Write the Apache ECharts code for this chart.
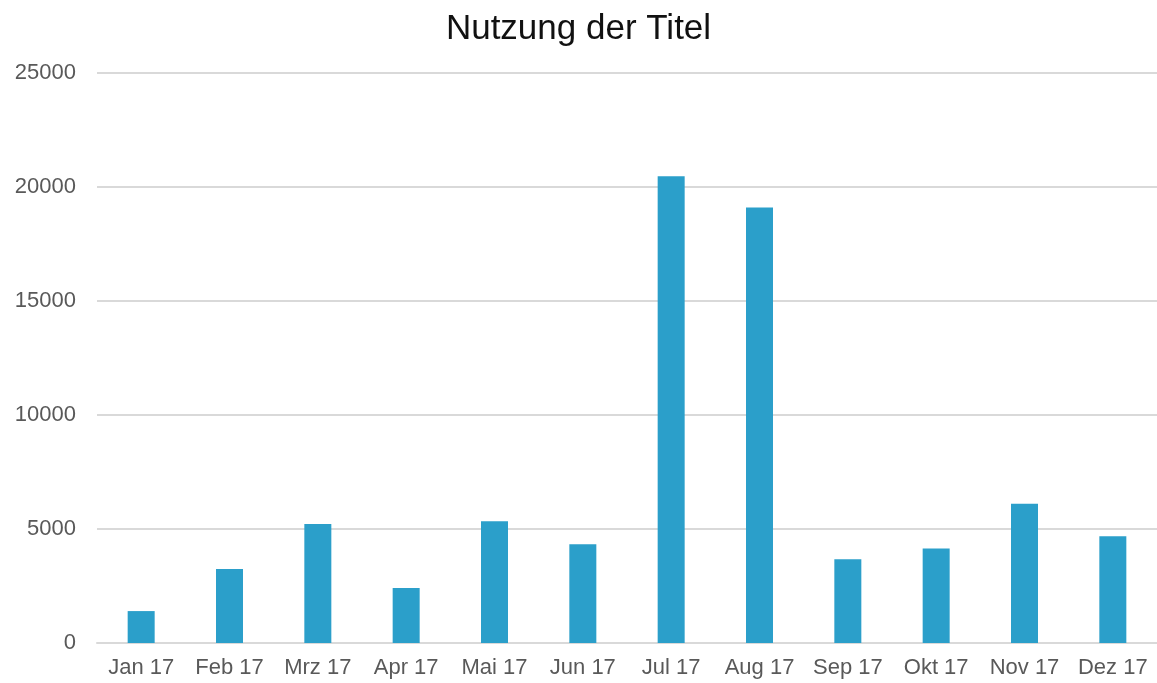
<!DOCTYPE html>
<html>
<head>
<meta charset="utf-8">
<script src="https://cdn.jsdelivr.net/npm/echarts@6/dist/echarts.min.js"></script>
<style>
  html, body { margin: 0; padding: 0; background: #fff; }
  #chart { width: 1157px; height: 683px; }
</style>
</head>
<body>
<div id="chart"></div>
<script>
const months = ['Jan 17', 'Feb 17', 'Mrz 17', 'Apr 17', 'Mai 17', 'Jun 17',
    'Jul 17', 'Aug 17', 'Sep 17', 'Okt 17', 'Nov 17', 'Dez 17'];
const usage = [1400, 3250, 5220, 2410, 5340, 4330, 20470, 19100, 3670, 4140, 6110, 4680];

const chart = echarts.init(document.getElementById('chart'));

const option = {
    animation: false,
    title: {
        text: 'Nutzung der Titel',
        left: 'center',
        top: 7,
        textStyle: {
            fontFamily: 'Liberation Sans',
            fontSize: 35,
            fontWeight: 'normal',
            color: '#111'
        }
    },
    grid: {
        left: 97,
        right: 0,
        top: 73,
        bottom: 40
    },
    xAxis: {
        type: 'category',
        data: months,
        axisLine: { lineStyle: { color: '#d9d9d9', width: 2 } },
        axisTick: { show: false },
        axisLabel: {
            interval: 0,
            margin: 14,
            fontFamily: 'Liberation Sans',
            fontSize: 22,
            color: '#595959'
        }
    },
    yAxis: {
        type: 'value',
        min: 0,
        max: 25000,
        interval: 5000,
        axisLine: { show: false },
        axisTick: { show: false },
        splitLine: { lineStyle: { color: '#d9d9d9', width: 2 } },
        axisLabel: {
            margin: 21,
            fontFamily: 'Liberation Sans',
            fontSize: 22,
            color: '#595959',
            formatter: v => String(v)
        }
    },
    series: [
        {
            type: 'bar',
            data: usage,
            barWidth: 27,
            itemStyle: { color: '#2b9fca' }
        }
    ]
};

chart.setOption(option);
</script>
</body>
</html>
